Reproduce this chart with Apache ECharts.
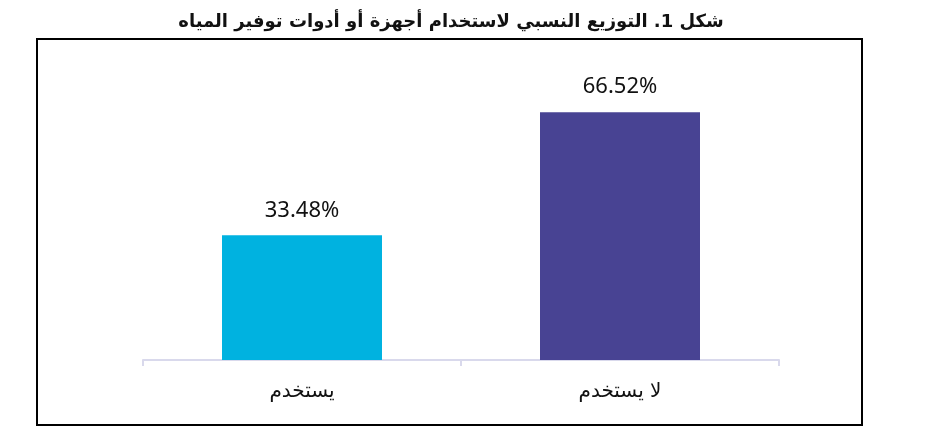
<!DOCTYPE html>
<html><head><meta charset="utf-8">
<script src="https://cdn.jsdelivr.net/npm/echarts@6/dist/echarts.min.js"></script>
<style>html,body{margin:0;padding:0;background:#fff}#c{width:937px;height:429px}</style>
</head><body><div id="c"></div>
<script>
const titleText = 'شكل 1. التوزيع النسبي لاستخدام أجهزة أو أدوات توفير المياه';
const categories = ['يستخدم', 'لا يستخدم'];
const values = [33.48, 66.52];
const colors = ['#00B2E0', '#484393'];

const chart = echarts.init(document.getElementById('c'));
chart.setOption({
  animation: false,
  backgroundColor: '#fff',
  title: {
    text: titleText,
    left: 446, top: 8, textAlign: 'center',
    textStyle: {fontFamily: 'DejaVu Sans', fontWeight: 'bold', fontSize: 18, color: '#111'}
  },
  graphic: [{
    type: 'rect', shape: {x: 37, y: 39, width: 825, height: 386},
    style: {fill: 'none', stroke: '#000', lineWidth: 2}, z: -1
  }],
  grid: {left: 143, right: 158, top: 62, bottom: 69},
  xAxis: {
    type: 'category', data: categories,
    axisLine: {lineStyle: {color: '#D9D9EC', width: 2}},
    axisTick: {show: true, length: 6, lineStyle: {color: '#D9D9EC', width: 2}},
    axisLabel: {color: '#111', fontSize: 20, margin: 22, fontFamily: 'DejaVu Sans'}
  },
  yAxis: {type: 'value', min: 0, max: 80, show: false, splitLine: {show: false}},
  series: [{
    type: 'bar', barWidth: 160,
    data: values.map((v, i) => ({value: v, itemStyle: {color: colors[i]}})),
    label: {
      show: true, position: 'top', distance: 14,
      formatter: p => p.value.toFixed(2) + '%',
      color: '#111', fontSize: 22, fontFamily: 'Noto Sans'
    }
  }]
});
</script></body></html>
